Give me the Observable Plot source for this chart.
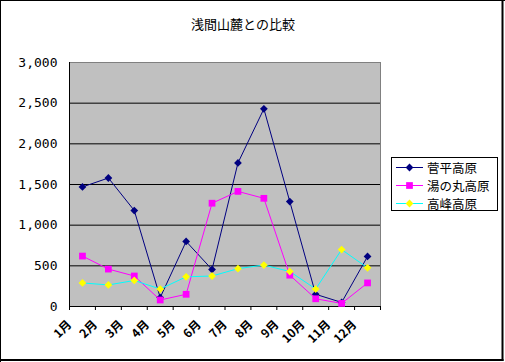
<!DOCTYPE html>
<html>
<head>
<meta charset="utf-8">
<script src="https://cdn.jsdelivr.net/npm/d3@7"></script>
<script src="https://cdn.jsdelivr.net/npm/@observablehq/plot@0.6"></script>
<style>
  html, body { margin: 0; padding: 0; background: #fff; }
  #chart { position: relative; width: 505px; height: 362px; }
  #chart svg { display: block; }
</style>
</head>
<body>
<div id="chart"></div>
<script>
const title = "浅間山麓との比較";
const months = ["1月","2月","3月","4月","5月","6月","7月","8月","9月","10月","11月","12月"];
const seriesNames = ["菅平高原","湯の丸高原","高峰高原"];
const sugadaira = [1470,1580,1180,110,800,455,1765,2430,1290,150,50,615];
const yunomaru  = [620,460,375,80,150,1270,1415,1330,385,95,38,290];
const takamine  = [290,265,320,215,365,375,465,510,430,215,700,475];
const yTicks = [0,500,1000,1500,2000,2500,3000];
const gridLines = [500,1000,1500,2000,2500];

const lineColors = ["#000080","#ff00ff","#00ffff"];
const dotColors  = ["#000080","#ff00ff","#ffff00"];
const symbols    = ["diamond2","square","diamond2"];
const dotR       = [3.5,3.8,3.5];

const valuesBySeries = [sugadaira, yunomaru, takamine];
const data = valuesBySeries.map((vals, si) =>
  vals.map((v, i) => ({series: seriesNames[si], m: i + 1, v})));

const monthIdx = months.map((_, i) => i + 1);
const boundaries = d3.range(0, months.length + 1).map(i => i + 0.5);

const seriesMarks = [];
data.forEach((d, si) => {
  seriesMarks.push(Plot.line(d, {x: "m", y: "v", stroke: lineColors[si], strokeWidth: 1}));
});
data.forEach((d, si) => {
  seriesMarks.push(Plot.dot(d, {x: "m", y: "v", symbol: () => symbols[si], r: dotR[si], fill: dotColors[si], stroke: "none"}));
});

const chart = Plot.plot({
  width: 505,
  height: 362,
  marginLeft: 69,
  marginRight: 125,
  marginTop: 62,
  marginBottom: 56,
  x: {type: "linear", domain: [0.5, 12.5]},
  y: {domain: [0, 3000]},
  symbol: {type: "identity"},
  style: {fontFamily: "'Noto Sans CJK JP', sans-serif", fontSize: "12px", color: "black", background: "white"},
  marks: [
    Plot.frame({fill: "#c0c0c0", stroke: "#808080"}),
    Plot.ruleY(gridLines, {stroke: "black", strokeWidth: 1}),
    Plot.ruleY([0], {stroke: "black", strokeWidth: 1}),
    Plot.ruleX([0.5], {stroke: "black", strokeWidth: 1}),
    Plot.axisY({ticks: yTicks, tickSize: 0, tickPadding: 12, tickFormat: d3.format(","), label: null,
      fontFamily: "'DejaVu Sans Mono', monospace", fontSize: 13}),
    Plot.axisX({ticks: boundaries, tickSize: 4, tickFormat: () => "", label: null, stroke: "black"}),
    Plot.axisX({ticks: monthIdx, tickSize: 0, tickPadding: 16, tickRotate: -45, dx: -13,
      tickFormat: i => months[i - 1], label: null, fontSize: 12, fontWeight: "bold"}),
    ...seriesMarks
  ]
});

const container = document.getElementById("chart");
container.appendChild(chart);

const svg = d3.select(chart);
// title
svg.append("text")
  .attr("x", 243).attr("y", 29)
  .attr("text-anchor", "middle")
  .attr("font-family", "'Noto Sans CJK JP', sans-serif")
  .attr("font-size", 13)
  .attr("fill", "black")
  .text(title);

// legend
const lg = svg.append("g").attr("text-anchor", "start");
lg.append("rect").attr("x", 391.5).attr("y", 157.5).attr("width", 106).attr("height", 53)
  .attr("fill", "white").attr("stroke", "black").attr("stroke-width", 1);
const rowY = [167, 185, 203];
seriesNames.forEach((name, si) => {
  const y = rowY[si];
  lg.append("line").attr("x1", 396).attr("x2", 423).attr("y1", y + 0.5).attr("y2", y + 0.5)
    .attr("stroke", lineColors[si]).attr("stroke-width", 1);
  const sym = si === 1 ? d3.symbolSquare : d3.symbolDiamond2;
  lg.append("path").attr("d", d3.symbol(sym, dotR[si] * dotR[si] * Math.PI)())
    .attr("transform", `translate(409.5,${y + 0.5})`)
    .attr("fill", dotColors[si]);
  lg.append("text").attr("x", 427).attr("y", y + 0.5)
    .attr("text-anchor", "start")
    .attr("dominant-baseline", "central")
    .attr("font-family", "'Noto Sans CJK JP', sans-serif")
    .attr("font-size", 12.5).attr("fill", "black")
    .text(name);
});

// outer border
const b = svg.append("g").attr("stroke", "black").attr("fill", "none");
b.append("line").attr("x1", 0).attr("x2", 505).attr("y1", 0.5).attr("y2", 0.5).attr("stroke-width", 1);
b.append("line").attr("x1", 0.5).attr("x2", 0.5).attr("y1", 0).attr("y2", 362).attr("stroke-width", 1);
b.append("line").attr("x1", 502.5).attr("x2", 502.5).attr("y1", 0).attr("y2", 361).attr("stroke-width", 2);
b.append("line").attr("x1", 0).attr("x2", 503.5).attr("y1", 360).attr("y2", 360).attr("stroke-width", 2);
</script>
</body>
</html>
